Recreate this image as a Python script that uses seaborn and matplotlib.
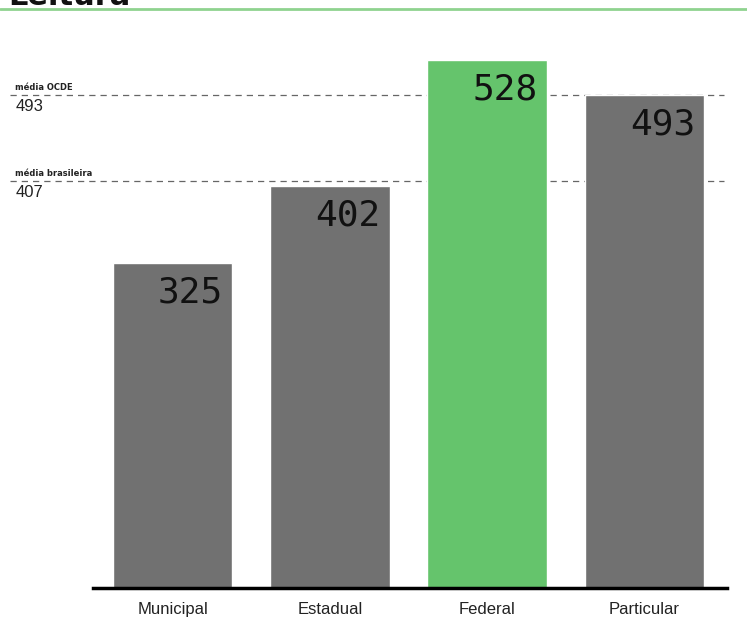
import matplotlib
matplotlib.use("Agg")
import matplotlib.pyplot as plt
import seaborn as sns
import pandas as pd

categories = ["Municipal", "Estadual", "Federal", "Particular"]
values = [325, 402, 528, 493]
bar_colors = ["#717171", "#717171", "#65c46c", "#717171"]
ref_values = [493, 407]
ref_labels = ["média OCDE", "média brasileira"]
title = "Leitura"

sns.set_theme(style="white")
plt.rcParams["font.family"] = ["Liberation Sans", "DejaVu Sans"]

df = pd.DataFrame({"cat": categories, "val": values})

fig = plt.figure(figsize=(7.47, 6.23), dpi=100)
W, H = 747, 623
ax = fig.add_axes([93 / W, 35 / H, (727 - 93) / W, (588 - 40) / H])

sns.barplot(data=df, x="cat", y="val", hue="cat", palette=bar_colors,
            legend=False, width=0.76, saturation=1, ax=ax, zorder=3)

ax.set_xlim(-0.506, 3.525)
ax.set_ylim(0, 548)

for v, lab in zip(ref_values, ref_labels):
    ax.axhline(v, xmin=-0.131, xmax=0.995, color="#666666", lw=0.9,
               ls=(0, (5, 4)), clip_on=False, zorder=1)
    ax.annotate(lab, xy=(0, v), xycoords=("figure fraction", "data"),
                xytext=(11, 2.5), textcoords="offset points", ha="left", va="bottom",
                fontsize=6, fontweight="bold", color="#222222",
                family=["DejaVu Sans"])
    ax.annotate(str(v), xy=(0, v), xycoords=("figure fraction", "data"),
                xytext=(11, -3), textcoords="offset points", ha="left", va="top",
                fontsize=12, color="#222222")

for i, v in enumerate(values):
    ax.annotate(str(v), xy=(i + 0.38, v), xytext=(-6.5, -9),
                textcoords="offset points", ha="right", va="top",
                fontsize=26, color="#111111", family=["DejaVu Sans Mono"], zorder=5)

ax.set_xlabel("")
ax.set_ylabel("")
ax.set_yticks([])
ax.tick_params(axis="x", length=0, pad=10, labelsize=12, labelcolor="#222222")
for s in ["top", "right", "left"]:
    ax.spines[s].set_visible(False)
ax.spines["bottom"].set_color("black")
ax.spines["bottom"].set_linewidth(2.5)
ax.spines["bottom"].set_zorder(6)

# top header: cut-off title and green rule
fig.text(8 / W, 1 - 5 / H, title, ha="left", va="baseline", fontsize=22,
         fontweight="bold", color="#111111", family=["DejaVu Sans"])
fig.add_artist(plt.Line2D([0, 1], [1 - 9 / H, 1 - 9 / H], transform=fig.transFigure,
                          color="#8fd38f", lw=2))

fig.savefig("out.png", dpi=100)
